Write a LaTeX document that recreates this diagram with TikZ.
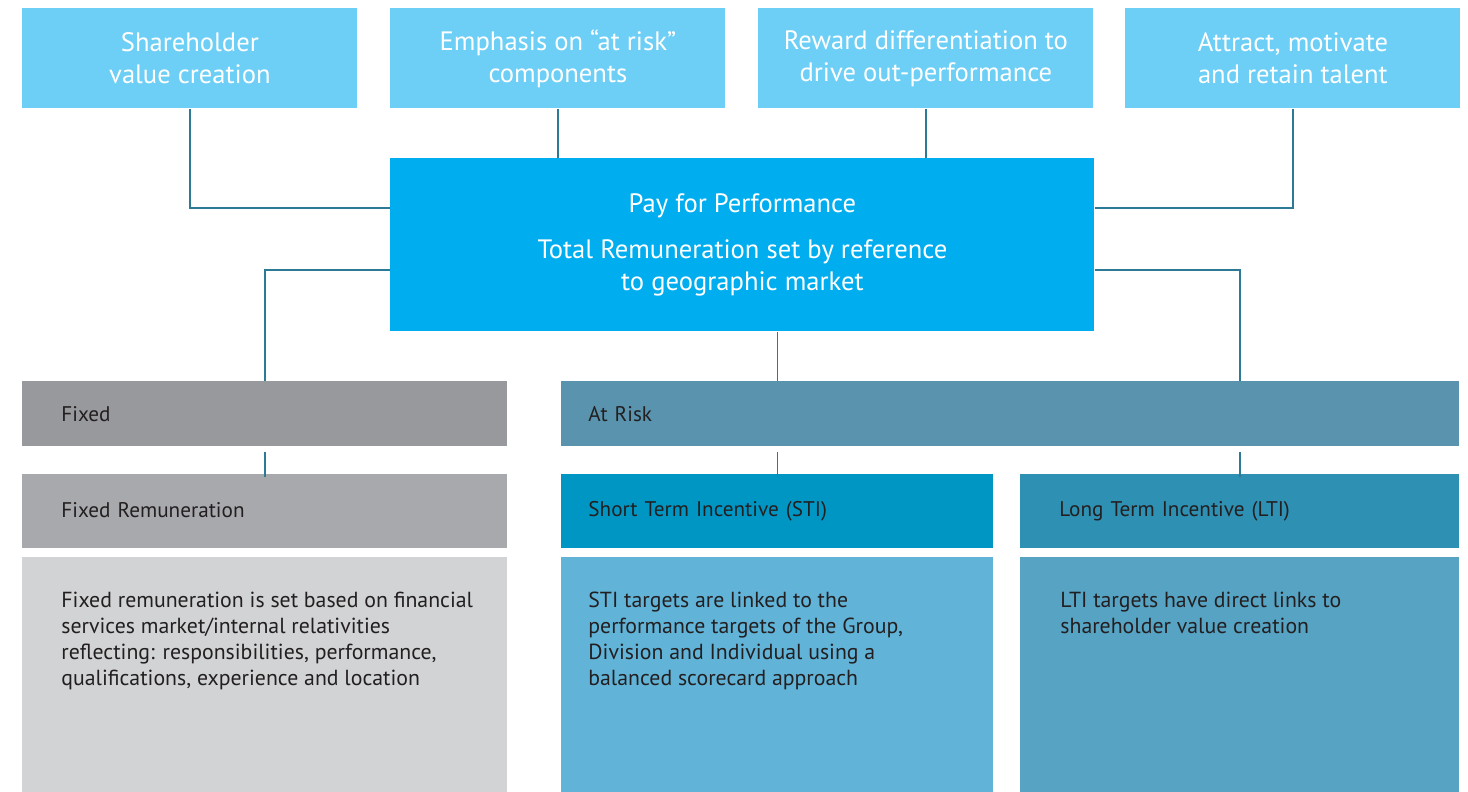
\documentclass[tikz,border=0pt]{standalone}
\usepackage{fontspec}
\setmainfont{PT Sans}
\usetikzlibrary{positioning}

\definecolor{goalblue}{HTML}{6DCFF6}
\definecolor{paybg}{HTML}{00AEEF}
\definecolor{fixgray}{HTML}{98999D}
\definecolor{riskteal}{HTML}{5A93AE}
\definecolor{fixremgray}{HTML}{A7A9AC}
\definecolor{stiblue}{HTML}{0096C4}
\definecolor{ltiteal}{HTML}{2E90B2}
\definecolor{fixdescgray}{HTML}{D1D3D4}
\definecolor{stidescblue}{HTML}{61B4D8}
\definecolor{ltidescblue}{HTML}{56A3C4}
\definecolor{linkteal}{HTML}{2C7A96}
\definecolor{labeltext}{HTML}{231F20}

\begin{document}
\begin{tikzpicture}[x=0.5pt, y=-0.5pt]
    \tikzset{
        goal/.style = {rectangle, fill=goalblue, text=white, anchor=north west, minimum width=167.5pt, minimum height=50pt, align=center, inner sep=0pt, font=\fontsize{13.3}{16}\selectfont},
        pay/.style = {rectangle, fill=paybg, text=white, anchor=north west, minimum width=352pt, minimum height=86.5pt, align=center, inner sep=0pt, font=\fontsize{13.3}{16}\selectfont},
        band/.style = {rectangle, anchor=north west, text=labeltext, align=left, inner xsep=19.5pt, inner ysep=0pt, font=\fontsize{10.6}{13}\selectfont},
        descbox/.style = {rectangle, anchor=north west, minimum height=117.5pt, inner sep=0pt},
        desc/.style = {anchor=north west, text=labeltext, align=left, inner sep=0pt, font=\fontsize{10.9}{13}\selectfont},
        link/.style = {draw=linkteal, line width=0.7pt}
    }
    \useasboundingbox (0,0) rectangle (1468,792);

    % goals
    \node[goal] (share) at (22,8) {Shareholder\\value creation};
    \node[goal] (emph) at (390,8) {Emphasis on “at risk”\\components};
    \node[goal] (reward) at (758,8) {Reward differentiation to\\drive out-performance};
    \node[goal] (talent) at (1125,8) {Attract, motivate\\and retain talent};

    \node[pay] (payperf) at (390,158) {Pay for Performance\\[7pt]Total Remuneration set by reference\\to geographic market};

    % components
    \node[band, fill=fixgray, text width=203.5pt, minimum height=32.5pt] (fixed) at (22,381) {Fixed};
    \node[band, fill=riskteal, inner xsep=13.5pt, text width=422pt, minimum height=32.5pt] (atrisk) at (561,381) {At Risk};
    \node[band, fill=fixremgray, text width=203.5pt, minimum height=37pt] (fixrem) at (22,474) {\raisebox{1.5pt}{Fixed Remuneration}};
    \node[band, fill=stiblue, inner xsep=13.5pt, text width=189pt, minimum height=37pt] (sti) at (561,474) {\raisebox{1.5pt}{Short Term Incentive (STI)}};
    \node[band, fill=ltiteal, text width=180.5pt, minimum height=37pt] (lti) at (1020,474) {\raisebox{1.5pt}{Long Term Incentive (LTI)}};

    \node[descbox, fill=fixdescgray, minimum width=242.5pt] (fixdesc) at (22,557) {};
    \node[descbox, fill=stidescblue, minimum width=216pt] (stidesc) at (561,557) {};
    \node[descbox, fill=ltidescblue, minimum width=219.5pt] (ltidesc) at (1020,557) {};
    \node[desc] (fixtext) at ([xshift=19.5pt, yshift=-17.5pt]fixdesc.north west) {Fixed remuneration is set based on financial\\services market/internal relativities\\reflecting: responsibilities, performance,\\qualifications, experience and location};
    \node[desc] (stitext) at ([xshift=13.5pt, yshift=-17.5pt]stidesc.north west) {STI targets are linked to the\\performance targets of the Group,\\Division and Individual using a\\balanced scorecard approach};
    \node[desc] (ltitext) at ([xshift=20pt, yshift=-17.5pt]ltidesc.north west) {LTI targets have direct links to\\shareholder value creation};

    % links
    \draw[link] (share.south) |- ([yshift=-25pt]payperf.north west);
    \draw[link] (emph.south) -- (emph.south |- payperf.north);
    \draw[link] (reward.south) -- (reward.south |- payperf.north);
    \draw[link] (talent.south) |- ([yshift=-25pt]payperf.north east);
    \draw[link] ([yshift=-56pt]payperf.north west) -| (fixed.north);
    \draw[link] (sti.north |- payperf.south) -- (sti.north |- atrisk.north);
    \draw[link] ([yshift=-56pt]payperf.north east) -| (lti.north |- atrisk.north);
    \draw[link] ([yshift=-2.5pt]fixed.south) -- ([yshift=-1.5pt]fixrem.north);
    \draw[link] ([yshift=-2.5pt]sti.north |- atrisk.south) -- ([yshift=-1.5pt]sti.north);
    \draw[link] ([yshift=-2.5pt]lti.north |- atrisk.south) -- ([yshift=-1.5pt]lti.north);
\end{tikzpicture}
\end{document}
